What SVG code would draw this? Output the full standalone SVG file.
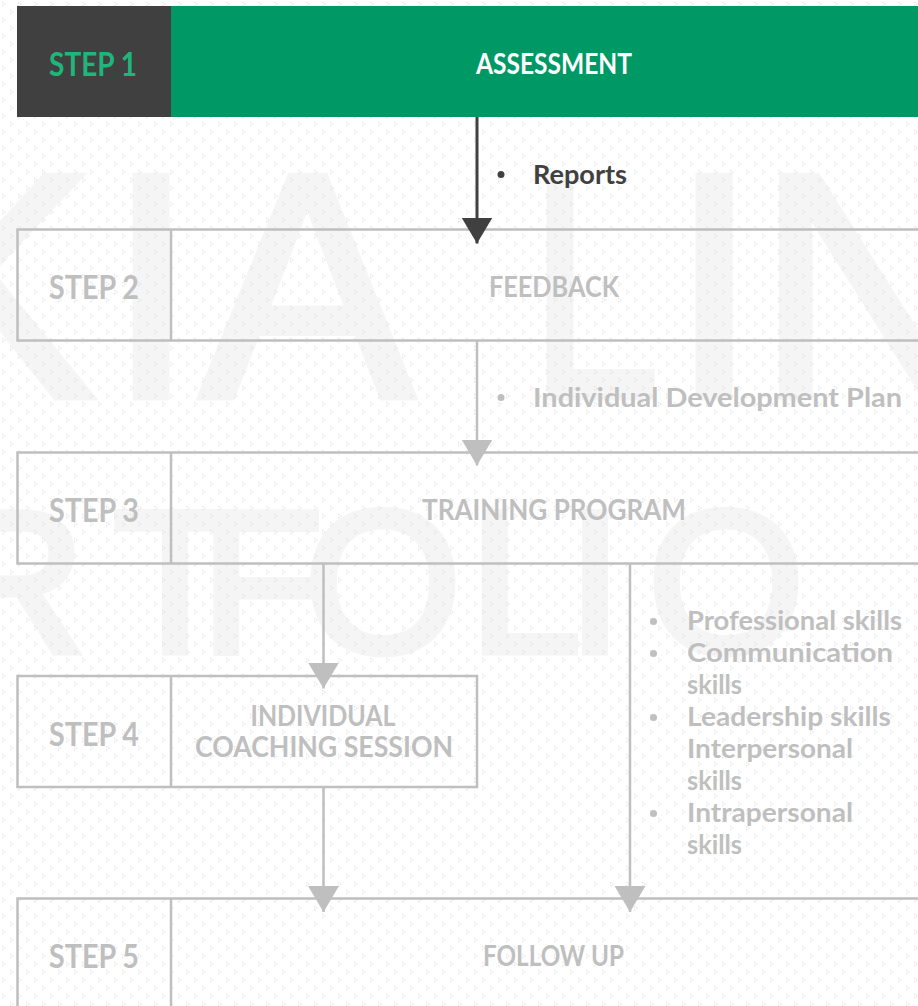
<svg xmlns="http://www.w3.org/2000/svg" width="918" height="1006" viewBox="0 0 918 1006">
<defs>
<pattern id="bg" width="16" height="16" patternUnits="userSpaceOnUse">
<g fill="#e4e4e4">
<rect x="2" y="2" width="1.4" height="1.4"/><rect x="4" y="3.5" width="1.4" height="1.4"/><rect x="2" y="5" width="1.4" height="1.4"/>
<rect x="10" y="10" width="1.4" height="1.4"/><rect x="12" y="11.5" width="1.4" height="1.4"/><rect x="10" y="13" width="1.4" height="1.4"/>
</g>
</pattern>
<marker id="ahGray" markerUnits="userSpaceOnUse" markerWidth="27" markerHeight="32" refX="26" refY="15.5" orient="auto" viewBox="0 0 27 32">
<path d="M0,0 L26,15.5 L0,31 Z" fill="#bfbfbf"/>
</marker>
<marker id="ahDark" markerUnits="userSpaceOnUse" markerWidth="27" markerHeight="32" refX="26" refY="15.5" orient="auto" viewBox="0 0 27 32">
<path d="M0,0 L26,15.5 L0,31 Z" fill="#404040"/>
</marker>
</defs>
<style>
.wm{font-family:"Liberation Sans",Arial,sans-serif;fill:#f5f5f5;stroke:#f5f5f5;stroke-width:7}
.box{fill:none;stroke:#bfbfbf;stroke-width:2.5}
.step{font-family:Lato,"Liberation Sans",sans-serif;font-weight:bold;font-size:32px;fill:#bfbfbf}
.title{font-family:Lato,"Liberation Sans",sans-serif;font-weight:bold;font-size:28px;fill:#bfbfbf;text-anchor:middle}
.lbl{font-family:Lato,"Liberation Sans",sans-serif;font-weight:bold;font-size:26px;fill:#bfbfbf}
.dot{fill:#bfbfbf}
.gline{stroke:#bfbfbf;stroke-width:2.5;fill:none}
</style>
<rect width="918" height="1006" fill="#ffffff"/>
<g id="watermark">
<text class="wm" x="-110" y="397" font-size="321" textLength="205" lengthAdjust="spacingAndGlyphs">K</text>
<text class="wm" x="151" y="397" font-size="321" text-anchor="middle">I</text>
<text class="wm" x="307" y="397" font-size="321" text-anchor="middle">A</text>
<text class="wm" x="530" y="397" font-size="321" textLength="130" lengthAdjust="spacingAndGlyphs">L</text>
<text class="wm" x="714" y="397" font-size="321" text-anchor="middle">I</text>
<text class="wm" x="756" y="397" font-size="321">N</text>
<text class="wm" x="-60" y="652" font-size="202">R</text>
<text class="wm" x="175" y="652" font-size="202" text-anchor="middle">T</text>
<text class="wm" x="262" y="652" font-size="202" text-anchor="middle">F</text>
<text class="wm" x="383" y="652" font-size="202" text-anchor="middle">O</text>
<text class="wm" x="525" y="652" font-size="202" text-anchor="middle">L</text>
<text class="wm" x="595" y="652" font-size="202" text-anchor="middle">I</text>
<text class="wm" x="726" y="652" font-size="202" text-anchor="middle">O</text>
</g>
<rect width="918" height="1006" fill="url(#bg)"/>
<g id="step1">
<rect x="17" y="6" width="154" height="111" fill="#404040"/>
<rect x="171" y="6" width="760" height="111" fill="#009865"/>
<text class="step" x="49" y="76" textLength="88" lengthAdjust="spacingAndGlyphs" style="fill:#1fb67b">STEP 1</text>
<text class="title" x="554" y="73.5" textLength="156" lengthAdjust="spacingAndGlyphs" style="fill:#ffffff">ASSESSMENT</text>
</g>
<g id="step2">
<rect class="box" x="17.5" y="229.5" width="920" height="111"/>
<line class="gline" x1="171" y1="229.5" x2="171" y2="340.5"/>
<text class="step" x="49" y="299" textLength="90" lengthAdjust="spacingAndGlyphs">STEP 2</text>
<text class="title" x="554" y="296.5" textLength="130" lengthAdjust="spacingAndGlyphs">FEEDBACK</text>
</g>
<g id="step3">
<rect class="box" x="17.5" y="452.5" width="920" height="111"/>
<line class="gline" x1="171" y1="452.5" x2="171" y2="563.5"/>
<text class="step" x="49" y="522" textLength="90" lengthAdjust="spacingAndGlyphs">STEP 3</text>
<text class="title" x="554" y="519.5" textLength="264" lengthAdjust="spacingAndGlyphs">TRAINING PROGRAM</text>
</g>
<g id="step4">
<rect class="box" x="17.5" y="676" width="459.5" height="111"/>
<line class="gline" x1="171" y1="676" x2="171" y2="787"/>
<text class="step" x="49" y="745.5" textLength="90" lengthAdjust="spacingAndGlyphs">STEP 4</text>
<text class="title" x="323" y="726" textLength="145" lengthAdjust="spacingAndGlyphs">INDIVIDUAL</text>
<text class="title" x="324" y="757" textLength="258" lengthAdjust="spacingAndGlyphs">COACHING SESSION</text>
</g>
<g id="step5">
<rect class="box" x="17.5" y="898.5" width="920" height="130"/>
<line class="gline" x1="171" y1="898.5" x2="171" y2="1010"/>
<text class="step" x="49" y="968" textLength="90" lengthAdjust="spacingAndGlyphs">STEP 5</text>
<text class="title" x="553.5" y="965.5" textLength="141" lengthAdjust="spacingAndGlyphs">FOLLOW UP</text>
</g>
<g id="connectors">
<line x1="477" y1="117" x2="477" y2="243.5" stroke="#404040" stroke-width="3" marker-end="url(#ahDark)"/>
<line class="gline" x1="477" y1="340.5" x2="477" y2="465.5" marker-end="url(#ahGray)"/>
<line class="gline" x1="323.5" y1="563.5" x2="323.5" y2="688.5" marker-end="url(#ahGray)"/>
<line class="gline" x1="323.5" y1="787" x2="323.5" y2="912" marker-end="url(#ahGray)"/>
<line class="gline" x1="630" y1="563.5" x2="630" y2="912" marker-end="url(#ahGray)"/>
</g>
<g id="labels">
<circle cx="501" cy="174.5" r="3.5" fill="#404040"/>
<text class="lbl" x="533" y="184" textLength="94" lengthAdjust="spacingAndGlyphs" style="fill:#404040">Reports</text>
<circle class="dot" cx="501" cy="397.5" r="3.5"/>
<text class="lbl" x="533" y="407" textLength="369" lengthAdjust="spacingAndGlyphs">Individual Development Plan</text>
<circle class="dot" cx="653.5" cy="621.5" r="3.5"/>
<text class="lbl" x="687" y="630" textLength="215" lengthAdjust="spacingAndGlyphs">Professional skills</text>
<circle class="dot" cx="653.5" cy="653.5" r="3.5"/>
<text class="lbl" x="687" y="662" textLength="206" lengthAdjust="spacingAndGlyphs">Communication</text>
<text class="lbl" x="687" y="694" textLength="55" lengthAdjust="spacingAndGlyphs">skills</text>
<circle class="dot" cx="653.5" cy="717.5" r="3.5"/>
<text class="lbl" x="687" y="726" textLength="204" lengthAdjust="spacingAndGlyphs">Leadership skills</text>
<text class="lbl" x="687" y="758" textLength="166" lengthAdjust="spacingAndGlyphs">Interpersonal</text>
<text class="lbl" x="687" y="790" textLength="55" lengthAdjust="spacingAndGlyphs">skills</text>
<circle class="dot" cx="653.5" cy="813.5" r="3.5"/>
<text class="lbl" x="687" y="822" textLength="166" lengthAdjust="spacingAndGlyphs">Intrapersonal</text>
<text class="lbl" x="687" y="854" textLength="55" lengthAdjust="spacingAndGlyphs">skills</text>
</g>
</svg>
